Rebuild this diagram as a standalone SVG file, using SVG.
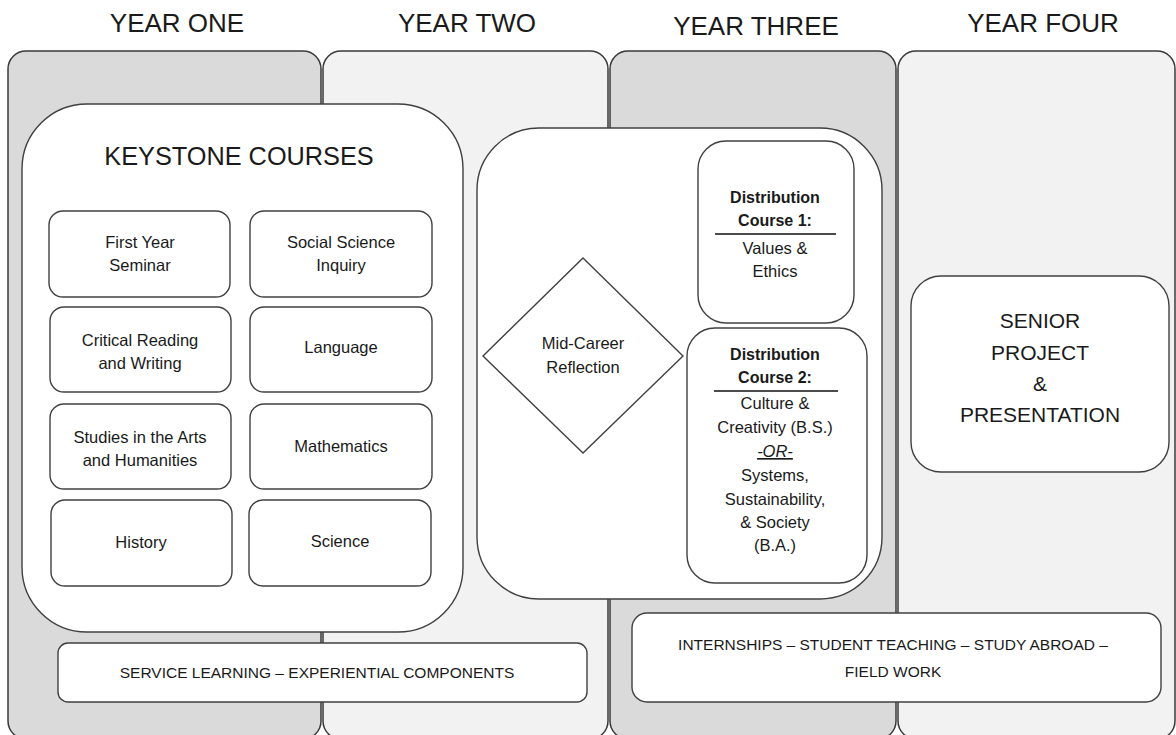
<svg xmlns="http://www.w3.org/2000/svg" width="1176" height="735" viewBox="0 0 1176 735">
<style>
text{font-family:"Liberation Sans",Arial,sans-serif;fill:#1a1a1a;text-anchor:middle}
.title{font-size:26px}
.col{stroke:#3a3a3a;stroke-width:1.5}
.dark{fill:#dadada}
.light{fill:#f2f2f2}
.box{fill:#fff;stroke:#404040;stroke-width:1.4}
.t{font-size:16.5px}
.b{font-size:16px;font-weight:bold}
.sep{stroke:#111;stroke-width:1.5}
.big{font-size:21px}
.cap{font-size:15.5px}
</style>
<rect width="1176" height="735" fill="#fff"/>
<g id="year-one">
<rect class="col dark" x="8" y="51" width="313" height="688" rx="18"/>
<text class="title" x="177" y="32">YEAR ONE</text>
</g>
<g id="year-two">
<rect class="col light" x="323" y="51" width="285" height="688" rx="18"/>
<text class="title" x="467" y="32">YEAR TWO</text>
</g>
<g id="year-three">
<rect class="col dark" x="610" y="51" width="286" height="688" rx="18"/>
<text class="title" x="756" y="35">YEAR THREE</text>
</g>
<g id="year-four">
<rect class="col light" x="898" y="51" width="277" height="688" rx="18"/>
<text class="title" x="1043" y="32">YEAR FOUR</text>
</g>
<g id="connectors"></g>
<g id="keystone-courses">
<rect class="box" x="22" y="104" width="441" height="528" rx="65"/>
<text x="239" y="165" style="font-size:25.3px">KEYSTONE COURSES</text>
</g>
<g id="first-year-seminar">
<rect class="box" x="49" y="211" width="181" height="86" rx="14"/>
<text class="t" x="140" y="248">First Year</text>
<text class="t" x="140" y="271">Seminar</text>
</g>
<g id="social-science-inquiry">
<rect class="box" x="250" y="211" width="182" height="86" rx="14"/>
<text class="t" x="341" y="248">Social Science</text>
<text class="t" x="341" y="271">Inquiry</text>
</g>
<g id="critical-reading">
<rect class="box" x="50" y="307" width="181" height="85" rx="14"/>
<text class="t" x="140" y="346">Critical Reading</text>
<text class="t" x="140" y="369">and Writing</text>
</g>
<g id="language">
<rect class="box" x="250" y="307" width="182" height="85" rx="14"/>
<text class="t" x="341" y="353">Language</text>
</g>
<g id="arts-humanities">
<rect class="box" x="50" y="404" width="181" height="85" rx="14"/>
<text class="t" x="140" y="443">Studies in the Arts</text>
<text class="t" x="140" y="466">and Humanities</text>
</g>
<g id="mathematics">
<rect class="box" x="250" y="404" width="182" height="85" rx="14"/>
<text class="t" x="341" y="452">Mathematics</text>
</g>
<g id="history">
<rect class="box" x="51" y="500" width="181" height="86" rx="14"/>
<text class="t" x="141" y="548">History</text>
</g>
<g id="science">
<rect class="box" x="249" y="500" width="182" height="86" rx="14"/>
<text class="t" x="340" y="547">Science</text>
</g>
<g id="service-learning">
<rect class="box" x="58" y="643" width="529" height="59" rx="10"/>
<text class="cap" x="317" y="678">SERVICE LEARNING – EXPERIENTIAL COMPONENTS</text>
</g>
<g id="mid-section">
<rect class="box" x="477" y="128" width="405" height="471" rx="62"/>
</g>
<g id="mid-career-reflection">
<polygon class="box" points="583,258 683,356 583,453 483,356"/>
<text class="t" x="583" y="349">Mid-Career</text>
<text class="t" x="583" y="373">Reflection</text>
</g>
<g id="distribution-course-1">
<rect class="box" x="698" y="141" width="156" height="182" rx="28"/>
<text class="b" x="775" y="203">Distribution</text>
<text class="b" x="775" y="226">Course 1:</text>
<line class="sep" x1="715" y1="234" x2="836" y2="234"/>
<text class="t" x="775" y="254">Values &amp;</text>
<text class="t" x="775" y="277">Ethics</text>
</g>
<g id="distribution-course-2">
<rect class="box" x="687" y="328" width="180" height="255" rx="28"/>
<text class="b" x="775" y="360">Distribution</text>
<text class="b" x="775" y="383">Course 2:</text>
<line class="sep" x1="714" y1="391" x2="838" y2="391"/>
<text class="t" x="775" y="409">Culture &amp;</text>
<text class="t" x="775" y="433">Creativity (B.S.)</text>
<text class="t" x="775" y="457" font-style="italic" text-decoration="underline">-OR-</text>
<text class="t" x="775" y="481">Systems,</text>
<text class="t" x="775" y="505">Sustainability,</text>
<text class="t" x="775" y="528">&amp; Society</text>
<text class="t" x="775" y="551">(B.A.)</text>
</g>
<g id="senior-project">
<rect class="box" x="911" y="276" width="258" height="196" rx="30"/>
<text class="big" x="1040" y="328">SENIOR</text>
<text class="big" x="1040" y="360">PROJECT</text>
<text class="big" x="1040" y="391">&amp;</text>
<text class="big" x="1040" y="422">PRESENTATION</text>
</g>
<g id="internships">
<rect class="box" x="632" y="613" width="529" height="89" rx="15"/>
<text class="cap" x="893" y="650">INTERNSHIPS – STUDENT TEACHING – STUDY ABROAD –</text>
<text class="cap" x="893" y="677">FIELD WORK</text>
</g>
</svg>
